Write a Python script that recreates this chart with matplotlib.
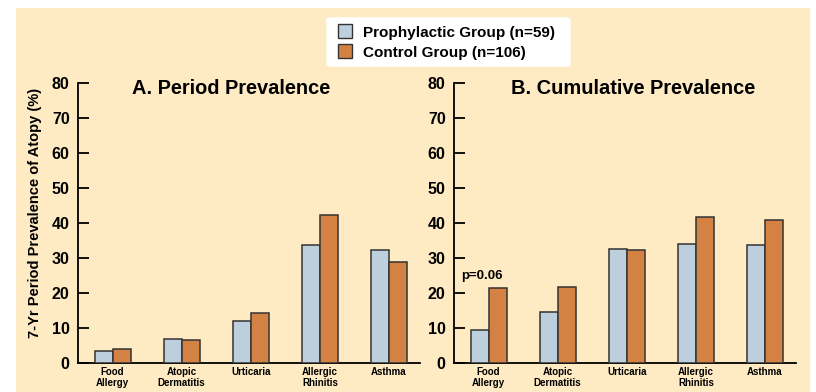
import matplotlib
matplotlib.use("Agg")
import matplotlib.pyplot as plt
import numpy as np
from matplotlib.patches import Rectangle, FancyBboxPatch

categories = ["Food\nAllergy", "Atopic\nDermatitis", "Urticaria", "Allergic\nRhinitis", "Asthma"]
series_names = ["Prophylactic Group (n=59)", "Control Group (n=106)"]
period_prophylactic = [3.5, 6.9, 12.0, 33.6, 32.2]
period_control = [4.1, 6.7, 14.4, 42.3, 28.9]
cumulative_prophylactic = [9.4, 14.5, 32.6, 34.1, 33.8]
cumulative_control = [21.4, 21.6, 32.4, 41.6, 40.8]
yticks = [0, 10, 20, 30, 40, 50, 60, 70, 80]
titles = ["A. Period Prevalence", "B. Cumulative Prevalence"]
ylabel = "7-Yr Period Prevalence of Atopy (%)"
annotation = "p=0.06"

plt.rcParams['font.family'] = ['Liberation Sans', 'DejaVu Sans']
plt.rcParams['font.weight'] = 'bold'

BG = "#FEEAC3"
BLUE = "#BDCFDC"
ORANGE = "#D48244"
EDGE = "#333333"

W, H = 816, 392
fig = plt.figure(figsize=(W / 100, H / 100), dpi=100)
fig.patch.set_facecolor("white")

def fx(px):
    return px / W

def fy(py):
    return (H - py) / H

bg_ax = fig.add_axes([fx(16), 0, (810 - 16) / W, (H - 8) / H], zorder=-10)
bg_ax.set_facecolor(BG)
bg_ax.set_xticks([])
bg_ax.set_yticks([])
for s in bg_ax.spines.values():
    s.set_visible(False)

axes_left = [78, 454]
ax_w = 342
ax_bottom = fy(363)
ax_h = (363 - 83) / H

x = np.arange(len(categories))
bw = 0.26
data = [(period_prophylactic, period_control), (cumulative_prophylactic, cumulative_control)]
title_x = [0.449, 0.523]

axs = []
for i, left in enumerate(axes_left):
    ax = fig.add_axes([fx(left), ax_bottom, ax_w / W, ax_h], zorder=1)
    ax.patch.set_alpha(0)
    p, c = data[i]
    ax.bar(x - bw / 2, p, bw, color=BLUE, edgecolor=EDGE, linewidth=1.1, label=series_names[0], zorder=3)
    ax.bar(x + bw / 2, c, bw, color=ORANGE, edgecolor=EDGE, linewidth=1.1, label=series_names[1], zorder=3)
    ax.set_xlim(-0.5, 4.45)
    ax.set_ylim(0, 80)
    ax.set_yticks(yticks)
    ax.set_yticklabels([str(t) for t in yticks], fontsize=11.5, fontweight='bold')
    ax.set_xticks(x)
    ax.set_xticklabels(categories, fontsize=7, fontweight='bold', linespacing=1.05)
    ax.tick_params(axis='x', length=0, pad=3)
    ax.tick_params(axis='y', direction='in', length=8, width=1.3, pad=6)
    for s in ["top", "right"]:
        ax.spines[s].set_visible(False)
    ax.spines["left"].set_linewidth(1.3)
    ax.spines["bottom"].set_linewidth(1.3)
    ax.text(title_x[i], 0.982, titles[i], transform=ax.transAxes, ha='center', va='center',
            fontsize=14.4, fontweight='bold')
    axs.append(ax)

axs[1].text(x[0] - 0.1, 25.0, annotation, ha='center', va='center', fontsize=9.5, fontweight='bold')

fig.text(fx(35), fy(213), ylabel, rotation=90, ha='center', va='center',
         fontsize=10.5, fontweight='bold')

# legend box
fig.patches.append(FancyBboxPatch((fx(328), fy(66)), (569 - 328) / W, (66 - 18) / H,
                                  boxstyle="round,pad=0.002,rounding_size=0.006",
                                  transform=fig.transFigure, facecolor="white",
                                  edgecolor="none", zorder=1))
for j, (col, yc) in enumerate([(BLUE, 31), (ORANGE, 51)]):
    fig.patches.append(Rectangle((fx(338), fy(yc + 7)), 14 / W, 14 / H,
                                 transform=fig.transFigure, facecolor=col,
                                 edgecolor=EDGE, linewidth=1.0, zorder=2))
    fig.text(fx(363), fy(yc + 1.5), series_names[j], ha='left', va='center',
             fontsize=11, fontweight='bold', zorder=3)

fig.savefig("out.png", dpi=100, facecolor=fig.get_facecolor())
